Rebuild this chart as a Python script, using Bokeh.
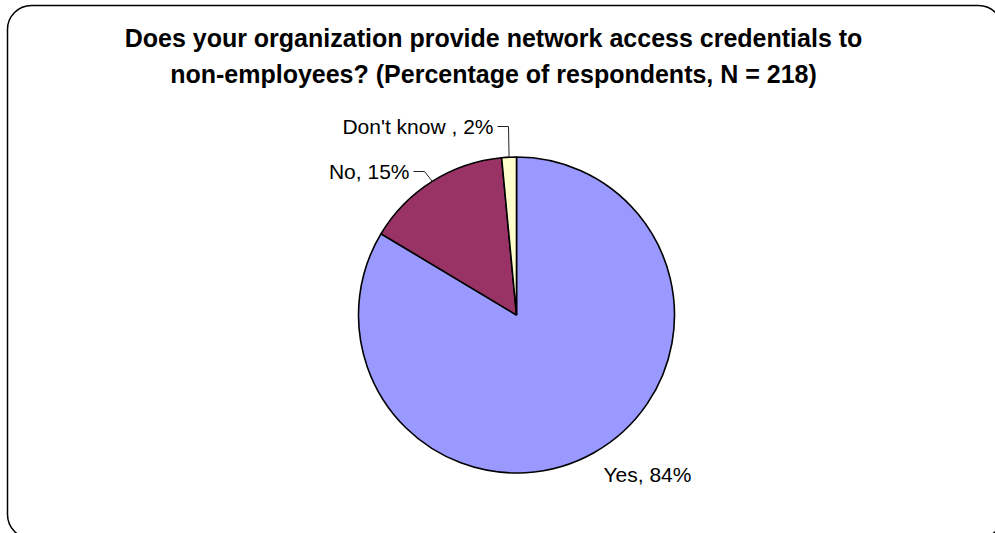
import numpy as np
from bokeh.plotting import figure
from bokeh.models import Range1d, BoxAnnotation, ColumnDataSource
from bokeh.core.properties import value
from bokeh.embed import file_html
from bokeh.resources import INLINE

# ---- data ----
categories = ["Yes", "No", "Don't know"]
percentages = [83.6, 14.9, 1.5]
label_texts = ["Yes, 84%", "No, 15%", "Don't know , 2%"]
title_lines = ["Does your organization provide network access credentials to",
               "non-employees? (Percentage of respondents, N = 218)"]

# ---- style / layout ----
colors = ["#9999FF", "#993366", "#FFFFCC"]
W, H = 995, 533
cx, cy, R = 516, H - 314.5, 158
# label anchor (x, y in pixels from top) and alignment
label_pos = [(603, 474), (409, 171), (493, 126)]
label_align = ["left", "right", "right"]
show_leader = [False, True, True]
FONT = "Liberation Sans"

p = figure(width=W, height=H, x_range=Range1d(0, W), y_range=Range1d(0, H),
           output_backend="svg", toolbar_location=None,
           x_axis_type=None, y_axis_type=None, min_border=0,
           outline_line_color=None, background_fill_color="white")
p.grid.visible = False

# rounded chart border
p.add_layout(BoxAnnotation(left=7, right=1002, top=H - 5, bottom=-5, border_radius=24,
                           fill_alpha=0, fill_color=None, line_color="black",
                           line_alpha=1.0, line_width=1.5, level="underlay"))

# pie slices (clockwise from 12 o'clock)
frac = np.array(percentages, dtype=float) / np.sum(percentages)
cum = np.concatenate([[0.0], np.cumsum(frac)])
start = np.pi / 2 - 2 * np.pi * cum[:-1]
end = np.pi / 2 - 2 * np.pi * cum[1:]
mid = (start + end) / 2

src = ColumnDataSource(dict(cat=categories, start=start, end=end, color=colors))
p.wedge(x=cx, y=cy, radius=R, radius_units="screen", start_angle="start", end_angle="end",
        direction="clock", fill_color="color", line_color="black", line_width=1.6, source=src)

# leader lines
for i in range(len(categories)):
    if not show_leader[i]:
        continue
    ex = cx + R * np.cos(mid[i])
    ey = cy + R * np.sin(mid[i])
    lx, ly = label_pos[i]
    xs = [lx + 4, lx + 15, ex]
    ys = [H - ly, H - ly, ey]
    p.line(xs, ys, line_color="#222222", line_width=1)

# labels
p.text(x=[lp[0] for lp in label_pos], y=[H - lp[1] for lp in label_pos], text=label_texts,
       text_align=label_align, text_baseline="middle",
       text_font=value(FONT), text_font_size="21px", text_color="black")

# title
p.text(x=[493, 493], y=[H - 37, H - 73], text=title_lines, text_align="center",
       text_baseline="middle", text_font=value(FONT), text_font_style="bold",
       text_font_size="25px", text_color="black")

open("out.html", "w").write(file_html(p, INLINE))
